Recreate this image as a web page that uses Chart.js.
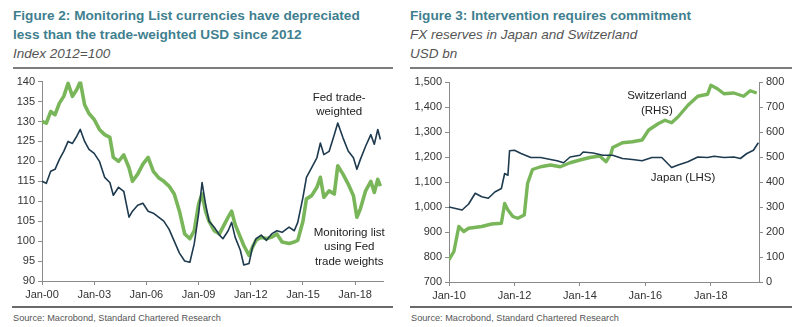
<!DOCTYPE html>
<html lang="en">
<head>
    <meta charset="UTF-8">
    <title>Monitoring List currencies and FX reserves</title>
    <script src="https://cdn.jsdelivr.net/npm/chart.js"></script>
    <style>
        body { margin: 0; background: #fff; font-family: "Liberation Sans", Arial, sans-serif; }
        #page { position: relative; width: 799px; height: 327px; overflow: hidden; }
        .title { position: absolute; color: #3f7f8f; font-weight: bold; font-size: 13.6px; line-height: 19px; }
        .sub { position: absolute; color: #555; font-style: italic; font-size: 13.5px; line-height: 19px; }
        .rule { position: absolute; height: 2px; background: #7d7d7d; }
        .rule2 { position: absolute; height: 1.5px; background: #6a6a6a; }
        .src { position: absolute; color: #555; font-size: 9.2px; }
        canvas { position: absolute; }
    </style>
</head>
<body>
<div id="page">
    <div class="title" style="left:13px; top:6px;">Figure 2: Monitoring List currencies have depreciated<br>less than the trade-weighted USD since 2012</div>
    <div class="sub" style="left:13px; top:44px;">Index 2012=100</div>
    <div class="rule" style="left:13px; top:67px; width:380px;"></div>

    <div class="title" style="left:410px; top:6px;">Figure 3: Intervention requires commitment</div>
    <div class="sub" style="left:410px; top:25px;">FX reserves in Japan and Switzerland</div>
    <div class="sub" style="left:410px; top:44px;">USD bn</div>
    <div class="rule" style="left:410px; top:67px; width:382px;"></div>

    <canvas id="left" width="400" height="234" style="left:0; top:72px;"></canvas>
    <canvas id="right" width="399" height="234" style="left:400px; top:72px;"></canvas>

    <div class="rule2" style="left:12px; top:306px; width:381px;"></div>
    <div class="rule2" style="left:410px; top:306px; width:382px;"></div>
    <div class="src" style="left:13px; top:313px;">Source: Macrobond, Standard Chartered Research</div>
    <div class="src" style="left:411px; top:313px;">Source: Macrobond, Standard Chartered Research</div>
</div>
<script>
    // Figure 2 data (decimal years, index 2012=100)
    const fig2Years = [
        2000.0, 2000.25, 2000.5, 2000.75, 2001.0, 2001.25, 2001.5, 2001.75, 2002.0, 2002.2,
        2002.45, 2002.7, 2003.0, 2003.3, 2003.6, 2003.9, 2004.1, 2004.4, 2004.7, 2005.0,
        2005.2, 2005.5, 2005.8, 2006.1, 2006.4, 2006.7, 2007.0, 2007.3, 2007.6, 2007.9,
        2008.2, 2008.5, 2008.75, 2009.0, 2009.2, 2009.4, 2009.6, 2009.9, 2010.2, 2010.4,
        2010.7, 2010.9, 2011.1, 2011.4, 2011.6, 2011.9, 2012.1, 2012.3, 2012.6, 2012.9,
        2013.2, 2013.5, 2013.8, 2014.2, 2014.5, 2014.7, 2015.0, 2015.2, 2015.5, 2015.8,
        2016.0, 2016.2, 2016.5, 2016.8, 2017.0, 2017.3, 2017.6, 2017.9, 2018.1, 2018.3,
        2018.6, 2018.9, 2019.1, 2019.3, 2019.45
    ];
    const fedTradeWeighted = [
        115.0, 114.5, 117.5, 118.0, 120.5, 122.5, 125.0, 124.5, 126.3, 128.0,
        125.0, 123.0, 122.0, 120.0, 116.0, 114.7, 111.5, 113.5, 112.5, 106.0,
        107.5, 109.0, 109.5, 107.5, 107.0, 106.0, 105.0, 103.0, 100.0, 97.0,
        95.0, 94.7, 99.3, 106.8, 114.7, 109.3, 105.0, 103.5, 101.5, 100.6,
        102.6, 104.7, 101.0, 97.7, 94.0, 94.4, 98.5, 100.6, 101.5, 100.2,
        101.8, 102.6, 102.2, 103.5, 102.6, 104.7, 111.0, 116.0, 118.4, 120.9,
        124.6, 121.7, 122.5, 126.7, 129.6, 125.9, 122.6, 120.9, 118.0, 120.5,
        123.8, 126.7, 124.3, 128.0, 125.5
    ];
    const monitoringList = [
        130.0, 129.6, 132.5, 131.7, 134.6, 136.3, 139.6, 136.3, 138.0, 140.0,
        134.2, 132.0, 130.5, 128.0, 126.7, 126.0, 121.0, 120.0, 121.6, 118.4,
        115.0, 116.8, 119.3, 121.0, 117.5, 115.9, 115.0, 113.8, 111.8, 107.5,
        101.8, 100.6, 102.6, 109.3, 111.8, 107.5, 105.0, 102.6, 101.8, 103.5,
        106.0, 107.5, 104.2, 101.0, 98.9, 96.4, 98.5, 100.2, 101.0, 100.6,
        101.0, 101.8, 99.8, 99.4, 99.8, 100.2, 105.0, 110.6, 111.4, 113.5,
        116.0, 111.0, 112.6, 111.8, 118.9, 116.8, 114.3, 111.4, 106.0, 108.1,
        112.6, 115.0, 112.2, 115.5, 113.8
    ];
    const fig2TickYears = [2000, 2003, 2006, 2009, 2012, 2015, 2018];

    // Figure 3 data (USD bn)
    const japanYears = [
        2010.0, 2010.2, 2010.4, 2010.6, 2010.8, 2011.0, 2011.2, 2011.4, 2011.6, 2011.7,
        2011.8, 2011.85, 2012.0, 2012.2, 2012.5, 2012.8, 2013.1, 2013.3, 2013.5, 2013.7,
        2014.0, 2014.1, 2014.4, 2014.7, 2015.0, 2015.3, 2015.6, 2015.9, 2016.2, 2016.5,
        2016.8, 2017.0, 2017.3, 2017.6, 2017.9, 2018.1, 2018.4, 2018.7, 2018.9, 2019.1,
        2019.3, 2019.45
    ];
    const japanReserves = [
        1000, 994, 988, 1012, 1055, 1041, 1035, 1060, 1074, 1134,
        1127, 1225, 1227, 1214, 1198, 1198, 1190, 1185, 1177, 1200,
        1207, 1220, 1216, 1207, 1207, 1194, 1190, 1185, 1198, 1198,
        1158, 1168, 1181, 1200, 1198, 1203, 1198, 1200, 1194, 1214,
        1227, 1257
    ];
    const swissYears = [
        2010.0, 2010.15, 2010.3, 2010.45, 2010.6, 2011.0, 2011.3, 2011.6, 2011.7, 2011.8,
        2011.95, 2012.1, 2012.3, 2012.4, 2012.55, 2012.8, 2013.1, 2013.4, 2013.7, 2014.0,
        2014.3, 2014.6, 2014.8, 2014.95, 2015.0, 2015.3, 2015.6, 2015.9, 2016.1, 2016.4,
        2016.6, 2016.8, 2017.0, 2017.3, 2017.6, 2017.9, 2018.0, 2018.2, 2018.4, 2018.7,
        2019.0, 2019.2, 2019.4
    ];
    const swissReserves = [
        89, 122, 222, 202, 215, 222, 232, 235, 314, 288,
        262, 255, 268, 394, 450, 461, 468, 461, 477, 488,
        498, 504, 481, 514, 538, 557, 561, 568, 608, 634,
        647, 637, 661, 707, 743, 751, 787, 773, 753, 756,
        743, 765, 756
    ];
    const fig3TickYears = [2010, 2012, 2014, 2016, 2018];

    const navy = '#1e3a4e';
    const green = '#79b65a';
    const font11 = { family: '"Liberation Sans", Arial, sans-serif', size: 11 };

    function toPoints(xs, ys) {
        return xs.map((x, i) => ({ x: x, y: ys[i] }));
    }
    function janLabel(v) {
        return 'Jan-' + String(v % 100).padStart(2, '0');
    }

    // In-plot text labels, placed with data coordinates
    const notesPlugin = {
        id: 'notes',
        afterDatasetsDraw(chart, args, opts) {
            const c = chart.ctx;
            const xs = chart.scales.x;
            const ys = chart.scales.y;
            c.save();
            c.font = '11.5px "Liberation Sans", Arial, sans-serif';
            c.fillStyle = '#222';
            c.textAlign = 'center';
            c.textBaseline = 'middle';
            (opts.items || []).forEach(n => {
                const px = xs.getPixelForValue(n.x);
                const py = ys.getPixelForValue(n.y);
                n.lines.forEach((t, i) => c.fillText(t, px, py + i * 14.5));
            });
            c.restore();
        }
    };

    const axisGrid = { drawOnChartArea: false, drawTicks: true, tickLength: 4, color: '#8a8a8a' };
    const axisBorder = { color: '#8a8a8a', width: 1 };

    new Chart(document.getElementById('left'), {
        type: 'line',
        data: {
            datasets: [
                { label: 'Fed trade-weighted', data: toPoints(fig2Years, fedTradeWeighted),
                  borderColor: navy, borderWidth: 1.6 },
                { label: 'Monitoring list using Fed trade weights', data: toPoints(fig2Years, monitoringList),
                  borderColor: green, borderWidth: 3.6 }
            ]
        },
        options: {
            responsive: false,
            animation: false,
            layout: { padding: { top: 8, right: 17, left: 0, bottom: 0 } },
            elements: { point: { radius: 0 }, line: { tension: 0, borderJoinStyle: 'round' } },
            plugins: {
                legend: { display: false },
                tooltip: { enabled: false },
                notes: { items: [
                    { x: 2017.08, y: 136, lines: ['Fed trade-', 'weighted'] },
                    { x: 2017.66, y: 102.2, lines: ['Monitoring list', 'using Fed', 'trade weights'] }
                ] }
            },
            scales: {
                x: {
                    type: 'linear', min: 2000, max: 2019.6,
                    grid: axisGrid, border: axisBorder,
                    afterBuildTicks: s => { s.ticks = fig2TickYears.map(v => ({ value: v })); },
                    afterFit: s => { s.height = 25; },
                    ticks: { color: '#333', font: font11, padding: 3, maxRotation: 0, callback: janLabel }
                },
                y: {
                    min: 90, max: 140,
                    grid: axisGrid, border: axisBorder,
                    afterFit: s => { s.width = 42; },
                    ticks: { stepSize: 5, color: '#333', font: font11, padding: 3 }
                }
            }
        },
        plugins: [notesPlugin]
    });

    new Chart(document.getElementById('right'), {
        type: 'line',
        data: {
            datasets: [
                { label: 'Japan (LHS)', data: toPoints(japanYears, japanReserves), yAxisID: 'y',
                  borderColor: navy, borderWidth: 1.6 },
                { label: 'Switzerland (RHS)', data: toPoints(swissYears, swissReserves), yAxisID: 'y2',
                  borderColor: green, borderWidth: 3.4 }
            ]
        },
        options: {
            responsive: false,
            animation: false,
            layout: { padding: { top: 10, right: 0, left: 0, bottom: 0 } },
            elements: { point: { radius: 0 }, line: { tension: 0, borderJoinStyle: 'round' } },
            plugins: {
                legend: { display: false },
                tooltip: { enabled: false },
                notes: { items: [
                    { x: 2016.35, y: 1444, lines: ['Switzerland', '(RHS)'] },
                    { x: 2017.15, y: 1116, lines: ['Japan (LHS)'] }
                ] }
            },
            scales: {
                x: {
                    type: 'linear', min: 2010, max: 2019.47,
                    grid: axisGrid, border: axisBorder,
                    afterBuildTicks: s => { s.ticks = fig3TickYears.map(v => ({ value: v })); },
                    afterFit: s => { s.height = 24; },
                    ticks: { color: '#333', font: font11, padding: 3, maxRotation: 0, callback: janLabel }
                },
                y: {
                    position: 'left', min: 700, max: 1500,
                    grid: axisGrid, border: axisBorder,
                    afterFit: s => { s.width = 49; },
                    ticks: { stepSize: 100, color: '#333', font: font11, padding: 3,
                             callback: v => v.toLocaleString('en-US') }
                },
                y2: {
                    position: 'right', min: 0, max: 800,
                    grid: axisGrid, border: axisBorder,
                    afterFit: s => { s.width = 40; },
                    ticks: { stepSize: 100, color: '#333', font: font11, padding: 3 }
                }
            }
        },
        plugins: [notesPlugin]
    });
</script>
</body>
</html>
